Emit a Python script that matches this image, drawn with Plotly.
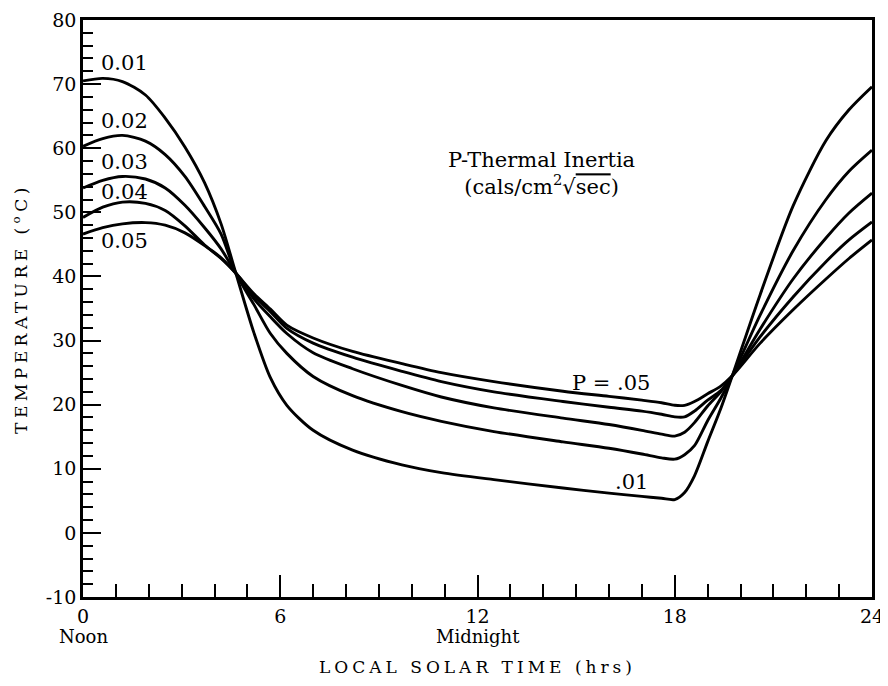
import plotly.graph_objects as go

# ---- data ----
hours = [0, 0.6, 1.2, 1.9, 2.5, 3.1, 3.7, 4.2, 4.65, 5.2, 5.7, 6.2, 7.0, 8.2, 9.7,
         10.9, 12.5, 14.6, 16.0, 17.0, 17.6, 18.0, 18.3, 18.6, 19.0, 19.4, 19.75,
         20.6, 21.6, 22.6, 23.3, 24.0]

temp_p01 = [70.5, 70.9, 70.4, 68.3, 64.7, 60.2, 54.6, 48.2, 40.5, 31.2, 24.2, 19.9, 16.0, 12.9, 10.6,
            9.4, 8.3, 7.0, 6.2, 5.7, 5.4, 5.2, 6.3, 8.9, 14.2, 19.4, 24.5,
            37.2, 51.0, 61.2, 66.0, 69.6]
temp_p02 = [60.3, 61.5, 62.0, 61.1, 59.0, 55.6, 50.9, 46.6, 40.5, 35.6, 31.1, 28.0, 24.4, 21.4, 18.9,
            17.4, 15.8, 14.2, 13.2, 12.3, 11.7, 11.5, 12.2, 13.6, 17.5, 21.0, 24.5,
            34.0, 44.0, 52.0, 56.4, 59.7]
temp_p03 = [53.8, 55.0, 55.6, 55.2, 53.8, 51.1, 47.6, 44.3, 40.5, 36.5, 33.7, 31.1, 28.1, 25.6, 23.0,
            21.2, 19.5, 17.9, 16.9, 16.0, 15.4, 15.1, 15.7, 17.2, 19.8, 22.0, 24.5,
            31.8, 39.6, 46.0, 49.9, 53.0]
temp_p04 = [49.2, 50.8, 51.6, 51.4, 50.3, 47.9, 44.9, 42.9, 40.5, 37.0, 34.5, 31.9, 29.6, 27.4, 25.2,
            23.6, 22.0, 20.5, 19.6, 19.0, 18.5, 18.1, 18.1, 19.0, 20.7, 22.2, 24.5,
            30.6, 36.8, 42.3, 45.7, 48.5]
temp_p05 = [46.6, 47.6, 48.2, 48.4, 48.0, 46.8, 44.8, 42.8, 40.5, 37.3, 34.9, 32.4, 30.4, 28.3, 26.4,
            25.0, 23.6, 22.1, 21.3, 20.7, 20.3, 19.9, 19.9, 20.5, 21.7, 22.9, 24.5,
            29.6, 34.8, 39.6, 42.8, 45.7]

series_names = ["0.01", "0.02", "0.03", "0.04", "0.05"]
series_values = [temp_p01, temp_p02, temp_p03, temp_p04, temp_p05]

x_tick_vals = [0, 6, 12, 18, 24]
x_tick_text = ["0", "6", "12", "18", "24"]
y_tick_vals = [-10, 0, 10, 20, 30, 40, 50, 60, 70, 80]
y_tick_text = ["-10", "0", "10", "20", "30", "40", "50", "60", "70", "80"]
x_sub_labels = ["Noon", "Midnight"]
x_sub_positions = [0, 12]

# label positions (data coords) for the curve labels at the left
label_x = 1.25
label_y = [73.3, 64.25, 57.85, 53.2, 45.5]

FONT = "DejaVu Serif"
INK = "black"

fig = go.Figure()
for name, vals in zip(series_names, series_values):
    fig.add_trace(go.Scatter(
        x=hours, y=vals, mode="lines", name="P = " + name,
        line=dict(color=INK, width=2.9, shape="spline", smoothing=0.8),
        showlegend=False, hoverinfo="x+y+name"))

annotations = []
for name, ly in zip(series_names, label_y):
    annotations.append(dict(x=label_x, y=ly, xref="x", yref="y", text=name,
                            showarrow=False, font=dict(family=FONT, size=21, color=INK),
                            xanchor="center", yanchor="middle"))

annotations.append(dict(
    x=13.94, y=56.0, xref="x", yref="y",
    text="P-Thermal Inertia<br>(cals/cm<sup>2</sup>\u221a<span style='text-decoration:overline'>sec</span>)",
    showarrow=False, font=dict(family=FONT, size=21, color=INK),
    xanchor="center", yanchor="middle", align="center"))
annotations.append(dict(x=16.06, y=23.4, xref="x", yref="y", text="P = .05",
                        showarrow=False, font=dict(family=FONT, size=21, color=INK)))
annotations.append(dict(x=16.67, y=7.9, xref="x", yref="y", text=".01",
                        showarrow=False, font=dict(family=FONT, size=21, color=INK)))

for lab, xp in zip(x_sub_labels, x_sub_positions):
    annotations.append(dict(x=xp, y=-0.069, xref="x", yref="paper", text=lab,
                            showarrow=False, font=dict(family=FONT, size=18, color=INK),
                            xanchor="center", yanchor="middle"))

# the page body adds an 8px offset, so the figure is sized to fit the window
fig.update_layout(
    width=880, height=678,
    margin=dict(l=75, r=16, t=12, b=89, autoexpand=False),
    paper_bgcolor="white", plot_bgcolor="white",
    font=dict(family=FONT, color=INK),
    annotations=annotations,
    xaxis=dict(
        range=[0, 24], tickvals=x_tick_vals, ticktext=x_tick_text, automargin=False,
        ticks="inside", ticklen=22, tickwidth=2, tickcolor=INK,
        minor=dict(dtick=1, ticks="inside", ticklen=13, tickwidth=2, tickcolor=INK),
        showgrid=False, zeroline=False, showline=True, linewidth=2.5, linecolor=INK,
        mirror=True, tickfont=dict(family=FONT, size=19, color=INK),
        title=dict(text="<span style='letter-spacing:4px'>LOCAL SOLAR TIME (hrs)</span>",
                   font=dict(family=FONT, size=17, color=INK), standoff=36),
    ),
    yaxis=dict(
        range=[-10, 80], tickvals=y_tick_vals, ticktext=y_tick_text, automargin=False,
        ticks="inside", ticklen=18, tickwidth=2, tickcolor=INK,
        minor=dict(dtick=2, ticks="inside", ticklen=10, tickwidth=2, tickcolor=INK),
        showgrid=False, zeroline=False, showline=True, linewidth=2.5, linecolor=INK,
        mirror=True, tickfont=dict(family=FONT, size=19, color=INK),
        title=dict(text="<span style='letter-spacing:4.5px'>TEMPERATURE (<sup>o</sup>C)</span>",
                   font=dict(family=FONT, size=17, color=INK), standoff=14),
    ),
)

fig.write_html("out.html")
